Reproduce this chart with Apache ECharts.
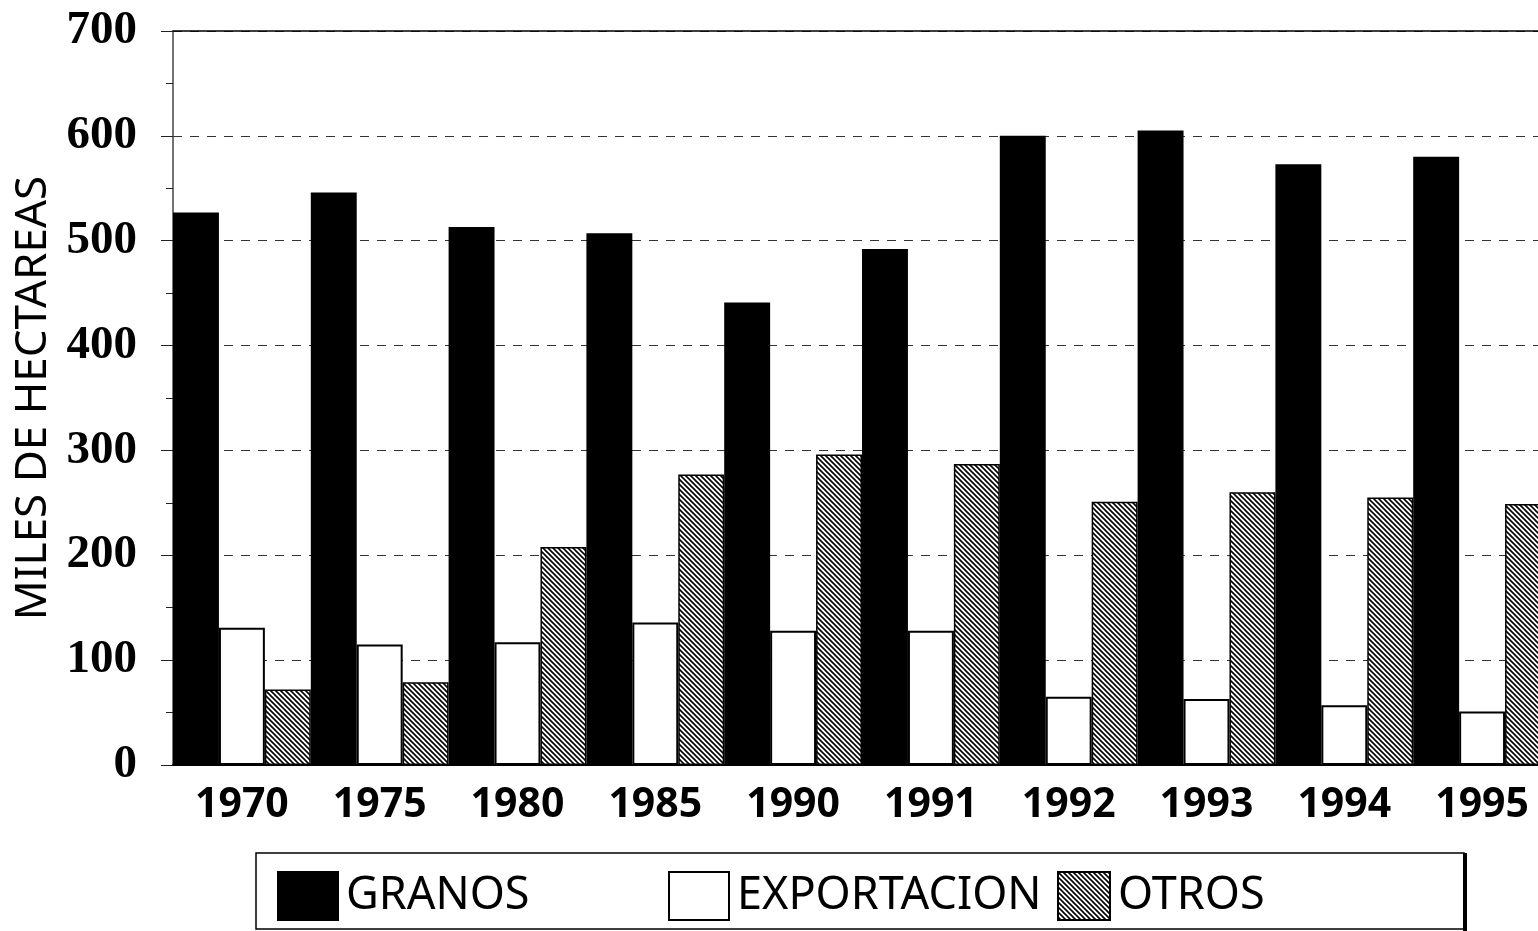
<!DOCTYPE html>
<html>
<head>
<meta charset="utf-8">
<script src="https://cdn.jsdelivr.net/npm/echarts@6/dist/echarts.min.js"></script>
<style>
  html, body { margin: 0; padding: 0; background: #fff; }
  #chart { width: 1538px; height: 931px; }
</style>
</head>
<body>
<div id="chart"></div>
<script>
// datos (miles de hectareas)
const years = ['1970', '1975', '1980', '1985', '1990', '1991', '1992', '1993', '1994', '1995']
const granos = [527, 546, 513, 507, 441, 492, 600, 605, 573, 580]
const exportacion = [131, 115, 117, 136, 128, 128, 65, 63, 57, 51]
const otros = [72, 79, 208, 277, 296, 287, 251, 260, 255, 249]
const yTicks = [0, 100, 200, 300, 400, 500, 600, 700]

// rayado diagonal para OTROS
function hatch () {
  const c = document.createElement('canvas')
  c.width = 5
  c.height = 5
  const ctx = c.getContext('2d')
  ctx.fillStyle = '#fff'
  ctx.fillRect(0, 0, 5, 5)
  ctx.strokeStyle = '#000'
  ctx.lineWidth = 1.6
  ctx.beginPath()
  ctx.moveTo(-1, -1); ctx.lineTo(6, 6)
  ctx.moveTo(-6, -1); ctx.lineTo(1, 6)
  ctx.moveTo(4, -1); ctx.lineTo(11, 6)
  ctx.stroke()
  return c
}

const serif = '"Liberation Serif", "DejaVu Serif", serif'
const sans = '"Noto Sans", "Liberation Sans", sans-serif'

const myChart = echarts.init(document.getElementById('chart'))
const barBase = {
  type: 'bar',
  barGap: '0%',
  barCategoryGap: '0%',
  xAxisIndex: 0
}
const legendBase = {
  top: 866,
  icon: 'rect',
  itemWidth: 60,
  itemHeight: 48,
  textStyle: { fontFamily: sans, fontSize: 45, color: '#000', padding: [0, 0, 0, 3] }
}
const option = {
  animation: false,
  backgroundColor: '#fff',
  grid: { left: 173, right: -13, top: 31, bottom: 166, outerBoundsMode: 'none', containLabel: false },
  xAxis: [{
    type: 'category',
    data: years,
    axisLine: { lineStyle: { color: '#000', width: 2 } },
    axisTick: { length: 15, lineStyle: { color: '#333', width: 1 } },
    axisLabel: { margin: 20, fontFamily: sans, fontWeight: 'bold', fontSize: 41, color: '#000' }
  }, {
    type: 'category',
    position: 'top',
    data: years,
    axisLine: { show: true, lineStyle: { color: '#000', width: 1.5 } },
    axisTick: { show: false },
    axisLabel: { show: false }
  }],
  yAxis: {
    type: 'value',
    min: yTicks[0],
    max: yTicks[yTicks.length - 1],
    interval: 100,
    name: 'MILES DE HECTAREAS',
    nameLocation: 'middle',
    nameGap: 110,
    nameTextStyle: { fontFamily: sans, fontSize: 44, color: '#000' },
    axisLine: { show: true, lineStyle: { color: '#444', width: 1.5 } },
    axisTick: { show: true, length: 12, lineStyle: { color: '#222' } },
    minorTick: { show: true, splitNumber: 2, length: 7, lineStyle: { color: '#222' } },
    axisLabel: { margin: 36, fontFamily: serif, fontWeight: 'bold', fontSize: 47, color: '#000' },
    splitLine: { show: true, lineStyle: { color: '#333', width: 1, type: [9, 8] } }
  },
  legend: [
    Object.assign({ left: 272, data: ['GRANOS'] }, legendBase),
    Object.assign({ left: 663, data: ['EXPORTACION'] }, legendBase),
    Object.assign({ left: 1052, data: ['OTROS'] }, legendBase, { itemWidth: 52 })
  ],
  graphic: [{
    type: 'rect',
    shape: { x: 256, y: 853, width: 1208, height: 76 },
    style: { fill: 'none', stroke: '#000', lineWidth: 1.5 },
    z: 0
  }, {
    type: 'line',
    shape: { x1: 1465, y1: 853, x2: 1465, y2: 931 },
    style: { stroke: '#000', lineWidth: 4 }
  }],
  series: [
    Object.assign({
      name: 'GRANOS',
      data: granos,
      itemStyle: { color: '#000', borderColor: '#000', borderWidth: 2 }
    }, barBase),
    Object.assign({
      name: 'EXPORTACION',
      data: exportacion,
      itemStyle: { color: '#fff', borderColor: '#000', borderWidth: 2 }
    }, barBase),
    Object.assign({
      name: 'OTROS',
      data: otros,
      itemStyle: { color: { image: hatch(), repeat: 'repeat' }, borderColor: '#000', borderWidth: 1.5 }
    }, barBase)
  ]
}
myChart.setOption(option, true)
</script>
</body>
</html>
